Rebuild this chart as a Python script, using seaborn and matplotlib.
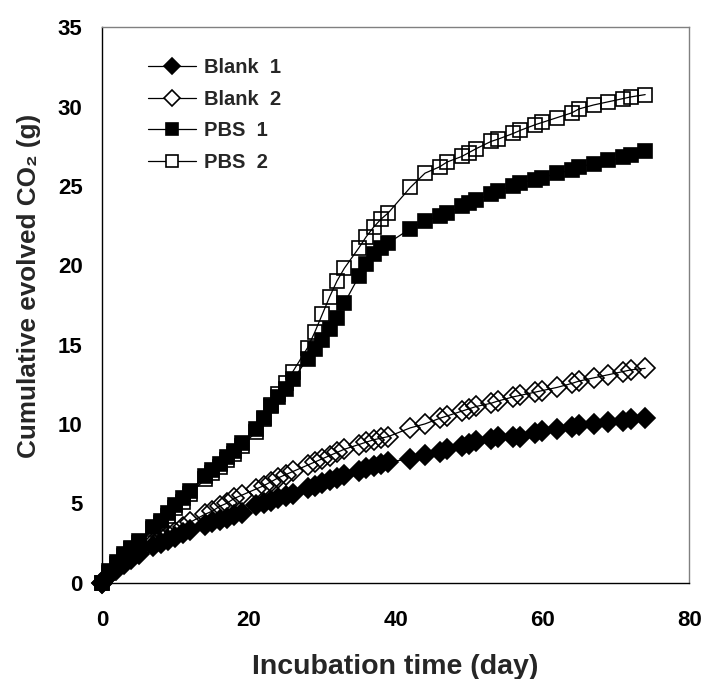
import matplotlib
matplotlib.use("Agg")
import matplotlib.pyplot as plt
import numpy as np
import pandas as pd
import seaborn as sns

# ---- data ----
days = [0, 1, 2, 3, 4, 5, 7, 8, 9, 10, 11, 12, 14, 15, 16, 17, 18, 19, 21, 22,
        23, 24, 25, 26, 28, 29, 30, 31, 32, 33, 35, 36, 37, 38, 39,
        42, 44, 46, 47, 49, 50, 51, 53, 54, 56, 57, 59, 60, 62, 64, 65, 67,
        69, 71, 72, 74]

blank1 = [0, 0.45, 0.85, 1.2, 1.5, 1.8, 2.3, 2.5, 2.7, 2.9, 3.1, 3.3, 3.65, 3.8,
          3.95, 4.1, 4.25, 4.4, 4.9, 5.0, 5.15, 5.3, 5.45, 5.6, 5.95, 6.1, 6.3,
          6.45, 6.6, 6.75, 7.05, 7.2, 7.35, 7.5, 7.6,
          7.8, 8.05, 8.25, 8.4, 8.6, 8.75, 8.9, 9.05, 9.15, 9.15, 9.2, 9.45,
          9.55, 9.7, 9.8, 9.9, 10.0, 10.1, 10.2, 10.3, 10.4]

blank2 = [0, 0.5, 0.9, 1.3, 1.6, 1.9, 2.5, 2.8, 3.0, 3.2, 3.5, 3.8, 4.3, 4.5,
          4.8, 5.0, 5.3, 5.5, 5.9, 6.1, 6.35, 6.6, 6.8, 7.0, 7.4, 7.6, 7.8,
          8.0, 8.2, 8.4, 8.7, 8.85, 9.0, 9.1, 9.2,
          9.75, 10.0, 10.35, 10.5, 10.8, 10.95, 11.1, 11.3, 11.45, 11.7, 11.8,
          12.0, 12.1, 12.3, 12.55, 12.7, 12.9, 13.1, 13.3, 13.4, 13.5]

pbs1 = [0, 0.7, 1.3, 1.8, 2.2, 2.6, 3.5, 3.9, 4.4, 4.9, 5.3, 5.8, 6.7, 7.1,
        7.5, 7.9, 8.3, 8.8, 9.7, 10.4, 11.1, 11.7, 12.2, 12.8, 14.1, 14.7,
        15.3, 16.0, 16.7, 17.6, 19.3, 20.1, 20.7, 21.1, 21.4,
        22.3, 22.8, 23.1, 23.3, 23.7, 23.9, 24.1, 24.5, 24.7, 25.0, 25.2,
        25.4, 25.5, 25.8, 26.0, 26.2, 26.4, 26.6, 26.8, 26.95, 27.2]

pbs2 = [0, 0.6, 1.2, 1.7, 2.1, 2.5, 3.35, 3.75, 4.2, 4.7, 5.1, 5.6, 6.5, 6.9,
        7.3, 7.7, 8.1, 8.6, 9.5, 10.3, 11.2, 11.9, 12.6, 13.3, 14.8, 15.8,
        16.9, 18.0, 19.0, 19.8, 21.1, 21.8, 22.4, 22.9, 23.3,
        24.9, 25.8, 26.2, 26.5, 26.85, 27.1, 27.35, 27.8, 27.95, 28.3, 28.5,
        28.85, 29.0, 29.3, 29.6, 29.85, 30.1, 30.3, 30.5, 30.6, 30.75]

labels = ["Blank  1", "Blank  2", "PBS  1", "PBS  2"]
x_ticks = [0, 20, 40, 60, 80]
y_ticks = [0, 5, 10, 15, 20, 25, 30, 35]

# ---- style ----
sns.set_theme(style="white")
plt.rcParams["font.family"] = ["Liberation Sans", "DejaVu Sans"]
plt.rcParams["font.weight"] = "bold"
plt.rcParams["axes.labelweight"] = "bold"

fig = plt.figure(figsize=(7.04, 6.79), dpi=100)
ax = fig.add_axes([0.145, 0.142, 0.834, 0.818])

specs = [
    (labels[0], blank1, "D", "black", 10.0, 4),
    (labels[1], blank2, "D", "none", 10.0, 3),
    (labels[2], pbs1, "s", "black", 10.5, 6),
    (labels[3], pbs2, "s", "none", 10.5, 5),
]

for lab, vals, mk, face, ms, z in specs:
    df = pd.DataFrame({"day": days, "co2": vals})
    sns.lineplot(data=df, x="day", y="co2", ax=ax, color="black", linewidth=0.9,
                 marker=mk, markersize=ms, markerfacecolor=face,
                 markeredgecolor="black", markeredgewidth=1.2,
                 label=lab, estimator=None, sort=False, zorder=z, clip_on=False)

ax.set_xlim(0, 80)
ax.set_ylim(0, 35)
ax.set_xticks(x_ticks)
ax.set_yticks(y_ticks)
ax.tick_params(axis="both", direction="in", length=5, width=1, labelsize=16,
               colors="black")
ax.tick_params(axis="x", pad=20)
ax.tick_params(axis="y", pad=14)
for t in ax.get_xticklabels() + ax.get_yticklabels():
    t.set_fontweight("bold")

ax.set_xlabel("Incubation time (day)", fontsize=20.5, fontweight="bold", labelpad=16)
ax.set_ylabel("Cumulative evolved CO\u2082 (g)", fontsize=18.8, fontweight="bold")
ax.yaxis.set_label_coords(-0.104, 0.534)

for side in ["left", "bottom"]:
    ax.spines[side].set_color("black")
    ax.spines[side].set_linewidth(1.0)
for side in ["top", "right"]:
    ax.spines[side].set_color("#808080")
    ax.spines[side].set_linewidth(1.0)

leg = ax.legend(loc="upper left", bbox_to_anchor=(0.078, 0.944), frameon=False,
                fontsize=14.5, handlelength=2.4, handletextpad=0.4,
                labelspacing=0.62, borderpad=0, borderaxespad=0, markerscale=0.85)
for h in leg.legend_handles:
    if h.get_markerfacecolor() == "none":
        h.set_markerfacecolor("white")
for t in leg.get_texts():
    t.set_fontweight("bold")

fig.savefig("out.png", dpi=100)
